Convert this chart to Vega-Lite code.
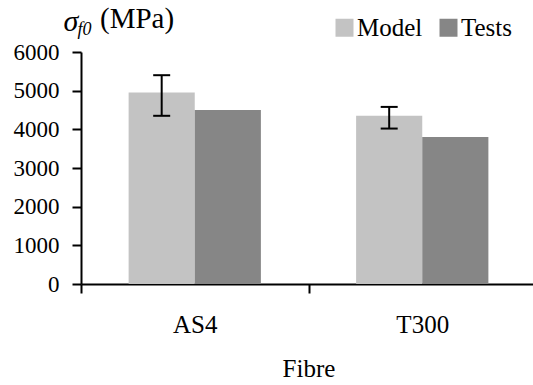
{
  "$schema": "https://vega.github.io/schema/vega-lite/v6.json",
  "width": 455,
  "height": 232,
  "autosize": {"type": "none"},
  "padding": {"left": 81, "top": 52, "right": 0, "bottom": 101},
  "background": "white",
  "datasets": {
    "bars": [
      {"Fibre": "AS4", "Series": "Model", "value": 4950},
      {"Fibre": "AS4", "Series": "Tests", "value": 4500},
      {"Fibre": "T300", "Series": "Model", "value": 4350},
      {"Fibre": "T300", "Series": "Tests", "value": 3800}
    ],
    "err": [
      {"Fibre": "AS4", "Series": "Model", "lo": 4350, "hi": 5400},
      {"Fibre": "T300", "Series": "Model", "lo": 4020, "hi": 4580}
    ]
  },
  "layer": [
    {
      "data": {"name": "bars"},
      "mark": {"type": "bar"},
      "encoding": {
        "x": {
          "field": "Fibre", "type": "nominal", "sort": ["AS4", "T300"],
          "scale": {"paddingInner": 0, "paddingOuter": 0},
          "axis": {
            "orient": "bottom", "tickBand": "extent", "grid": false,
            "domainColor": "black", "domainWidth": 2,
            "tickColor": "black", "tickWidth": 2, "tickSize": 9,
            "labelFont": "Liberation Serif", "labelFontSize": 25, "labelColor": "black",
            "labelPadding": 19, "labelAngle": 0,
            "title": "Fibre", "titleFont": "Liberation Serif", "titleFontSize": 25,
            "titleFontWeight": "normal", "titleColor": "black",
            "titleBaseline": "alphabetic", "titleY": 92
          }
        },
        "xOffset": {
          "field": "Series", "type": "nominal",
          "scale": {"domain": ["Model", "Tests"], "paddingInner": 0, "paddingOuter": 0.72}
        },
        "y": {
          "field": "value", "type": "quantitative",
          "scale": {"domain": [0, 6000]},
          "axis": {
            "orient": "left", "grid": false, "tickCount": 6, "format": "d",
            "domainColor": "black", "domainWidth": 2,
            "tickColor": "black", "tickWidth": 2, "tickSize": 9,
            "labelFont": "Liberation Serif", "labelFontSize": 23, "labelColor": "black",
            "labelPadding": 13, "labelFlush": false,
            "title": "σ", "titleFont": "Liberation Serif", "titleFontStyle": "italic",
            "titleFontWeight": "normal", "titleFontSize": 30, "titleColor": "black",
            "titleAngle": 0, "titleAlign": "left", "titleBaseline": "alphabetic",
            "titleX": -18, "titleY": -22
          }
        },
        "color": {
          "field": "Series", "type": "nominal",
          "scale": {"domain": ["Model", "Tests"], "range": ["#c3c3c3", "#868686"]},
          "legend": {
            "orient": "none", "legendX": 19, "legendY": -37,
            "direction": "horizontal",
            "title": "(MPa)", "titleOrient": "left", "titlePadding": 157,
            "titleFont": "Liberation Serif", "titleFontSize": 29, "titleFontWeight": "normal",
            "titleColor": "black", "titleBaseline": "alphabetic", "titleLimit": 0,
            "symbolType": "square", "symbolSize": 324, "symbolStrokeWidth": 0,
            "labelFont": "Liberation Serif", "labelFontSize": 25, "labelColor": "black",
            "labelOffset": 0, "columnPadding": 13, "padding": 0
          }
        }
      }
    },
    {
      "data": {"name": "err"},
      "encoding": {
        "x": {"field": "Fibre", "type": "nominal", "sort": ["AS4", "T300"]},
        "xOffset": {"field": "Series", "type": "nominal"}
      },
      "layer": [
        {
          "mark": {"type": "rule", "strokeWidth": 2, "color": "black"},
          "encoding": {
            "y": {
              "field": "lo", "type": "quantitative", "scale": {"domain": [0, 6000]},
              "axis": {
                "orient": "right", "domain": false, "ticks": false, "labels": false, "grid": false,
                "title": "f0", "titleFont": "Liberation Serif", "titleFontStyle": "italic",
                "titleFontSize": 18, "titleFontWeight": "normal", "titleColor": "black",
                "titleAngle": 0, "titleAlign": "left", "titleBaseline": "alphabetic",
                "titleX": -459, "titleY": -18
              }
            },
            "y2": {"field": "hi"}
          }
        },
        {
          "mark": {"type": "tick", "thickness": 2, "size": 17, "color": "black", "opacity": 1},
          "encoding": {
            "y": {
              "field": "lo", "type": "quantitative", "scale": {"domain": [0, 6000]},
              "axis": {
                "orient": "right", "domain": false, "ticks": false, "labels": false, "grid": false,
                "title": "f0", "titleFont": "Liberation Serif", "titleFontStyle": "italic",
                "titleFontSize": 18, "titleFontWeight": "normal", "titleColor": "black",
                "titleAngle": 0, "titleAlign": "left", "titleBaseline": "alphabetic",
                "titleX": -459, "titleY": -18
              }
            }
          }
        },
        {
          "mark": {"type": "tick", "thickness": 2, "size": 17, "color": "black", "opacity": 1},
          "encoding": {
            "y": {
              "field": "hi", "type": "quantitative", "scale": {"domain": [0, 6000]},
              "axis": {
                "orient": "right", "domain": false, "ticks": false, "labels": false, "grid": false,
                "title": "f0", "titleFont": "Liberation Serif", "titleFontStyle": "italic",
                "titleFontSize": 18, "titleFontWeight": "normal", "titleColor": "black",
                "titleAngle": 0, "titleAlign": "left", "titleBaseline": "alphabetic",
                "titleX": -459, "titleY": -18
              }
            }
          }
        }
      ]
    }
  ],
  "resolve": {"scale": {"y": "independent"}},
  "config": {
    "font": "Liberation Serif",
    "view": {"stroke": null},
    "axis": {"grid": false}
  }
}
